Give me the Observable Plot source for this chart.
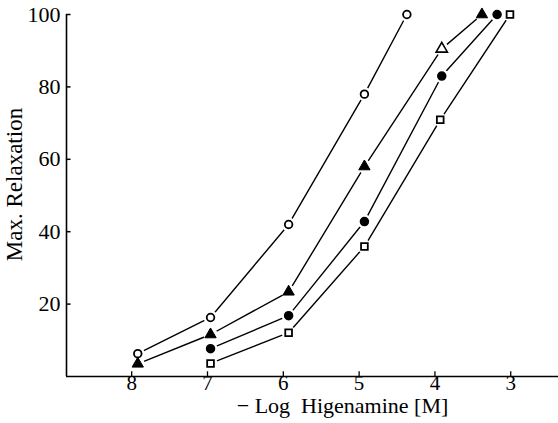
<!DOCTYPE html>
<html><head><meta charset="utf-8">
<script src="https://cdn.jsdelivr.net/npm/d3@7"></script>
<script src="https://cdn.jsdelivr.net/npm/@observablehq/plot@0.6"></script>
<style>body{margin:0;background:#fff}</style>
</head><body><div id="chart"></div>
<script>
const xTicks = [8, 7, 6, 5, 4, 3];
const yTicks = [20, 40, 60, 80, 100];
const openCircleX = [7.92, 6.96, 5.93, 4.93, 4.37];
const openCircleY = [6.3, 16.3, 42, 78, 100];
const triangleX = [7.92, 6.96, 5.93, 4.93, 3.91, 3.38];
const triangleY = [3.5, 11.6, 23.4, 58, 90.5, 100];
const filledCircleX = [6.96, 5.93, 4.93, 3.91, 3.18];
const filledCircleY = [7.7, 16.8, 42.8, 83, 100];
const squareX = [6.96, 5.93, 4.93, 3.93, 3.01];
const squareY = [3.6, 12.1, 35.9, 70.9, 100];
const xLabel = "− Log  Higenamine [M]";
const yLabel = "Max. Relaxation";

const toRows = (xs, ys, s) => xs.map((x, i) => ({x, y: ys[i], s, i}));
const openC = toRows(openCircleX, openCircleY, "oc");
const tri = toRows(triangleX, triangleY, "tri");
const fillC = toRows(filledCircleX, filledCircleY, "fc");
const sq = toRows(squareX, squareY, "sq");
const all = [...openC, ...tri, ...fillC, ...sq];

const F = "Liberation Serif";
const xDom = [8.86, 2.37];
const chart = Plot.plot({
  width: 558, height: 423,
  marginLeft: 66, marginRight: 0, marginTop: 14, marginBottom: 47,
  style: {fontSize: "22px", color: "#000", fontFamily: "'Liberation Serif', 'DejaVu Serif', serif", background: "#fff"},
  x: {domain: xDom, axis: null},
  y: {domain: [0, 100], axis: null},
  marks: [
    Plot.ruleX([xDom[0]], {y1: 0, y2: 100, stroke: "#000", strokeWidth: 1.6}),
    Plot.ruleY([0], {stroke: "#000", strokeWidth: 1.6}),
    Plot.ruleY(yTicks, {x1: xDom[0], x2: xDom[0] - 0.06, stroke: "#000", strokeWidth: 1.5}),
    Plot.ruleX(xTicks, {y1: 0, y2: 1.3, stroke: "#000", strokeWidth: 1.3}),
    Plot.text(yTicks, {x: xDom[0], y: d => d, text: d => String(d), textAnchor: "end", dx: -6, fontSize: 22, fontFamily: F, letterSpacing: "0.5px"}),
    Plot.text(xTicks, {x: d => d, y: 0, text: d => String(d), dy: 7, fontSize: 21, fontFamily: F}),
    Plot.text([xLabel], {frameAnchor: "bottom", textAnchor: "middle", dx: 30, dy: 36, fontSize: 22, fontFamily: F, letterSpacing: "0.4px"}),
    Plot.text([yLabel], {frameAnchor: "left", textAnchor: "middle", rotate: -90, dx: -52, dy: -11, fontSize: 23, fontFamily: F, letterSpacing: "1.2px"}),
    Plot.line(openC, {x: "x", y: "y", stroke: "#000", strokeWidth: 1.4}),
    Plot.line(tri, {x: "x", y: "y", stroke: "#000", strokeWidth: 1.4}),
    Plot.line(fillC, {x: "x", y: "y", stroke: "#000", strokeWidth: 1.4}),
    Plot.line(sq, {x: "x", y: "y", stroke: "#000", strokeWidth: 1.4}),
    Plot.dot(all, {x: "x", y: "y", r: 7, fill: "#fff", stroke: "none"}),
    Plot.dot(openC, {x: "x", y: "y", r: 3.8, symbol: "circle", fill: "#fff", stroke: "#000", strokeWidth: 1.8}),
    Plot.dot(tri.filter(d => d.i !== 4), {x: "x", y: "y", r: 4.2, symbol: "triangle", fill: "#000", stroke: "#000", strokeWidth: 1}),
    Plot.dot(tri.filter(d => d.i === 4), {x: "x", y: "y", r: 4.2, symbol: "triangle", fill: "#fff", stroke: "#000", strokeWidth: 1.6}),
    Plot.dot(fillC, {x: "x", y: "y", r: 4, symbol: "circle", fill: "#000", stroke: "#000"}),
    Plot.dot(sq, {x: "x", y: "y", r: 3.8, symbol: "square", fill: "#fff", stroke: "#000", strokeWidth: 1.8})
  ]
});
document.getElementById("chart").append(chart);
</script>
</body></html>
